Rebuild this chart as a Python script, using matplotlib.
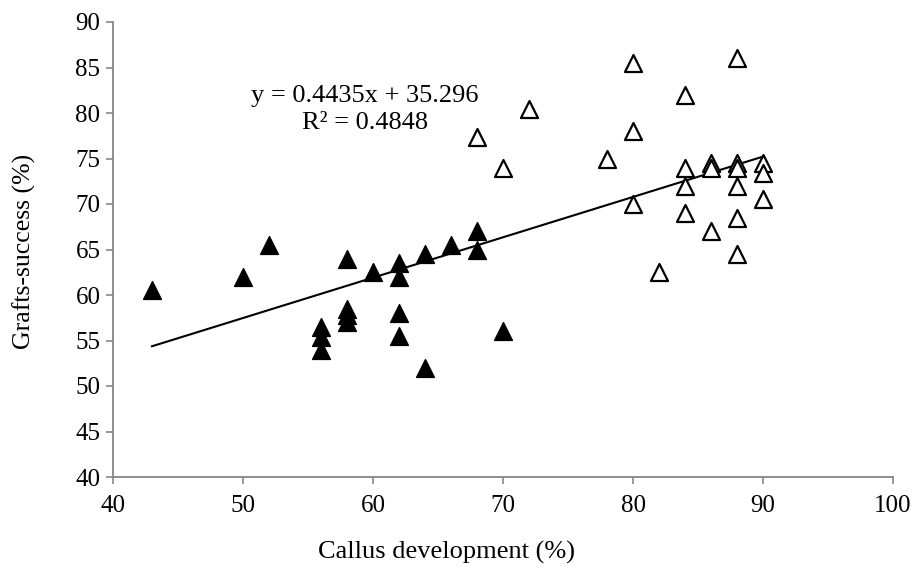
import matplotlib
matplotlib.use("Agg")
import matplotlib.pyplot as plt
import numpy as np

plt.rcParams['font.family'] = ['Liberation Serif', 'DejaVu Serif']

# Filled triangles (lower callus group)
filled_x = [43, 50, 52, 56, 56, 56, 58, 58, 58, 58, 60, 62, 62, 62, 62, 64, 64, 66, 68, 68, 70]
filled_y = [60.5, 62.0, 65.5, 56.5, 55.4, 54.0, 64.0, 58.5, 57.8, 57.0, 62.5, 63.5, 62.0, 58.0, 55.5, 64.5, 52.0, 65.5, 67.0, 65.0, 56.0]

# Open triangles (higher callus group)
open_x = [68, 70, 72, 78, 80, 80, 80, 82, 84, 84, 84, 84, 86, 86, 86, 88, 88, 88, 88, 88, 88, 90, 90, 90]
open_y = [77.4, 74.0, 80.4, 75.0, 85.5, 78.0, 70.0, 62.5, 82.0, 74.0, 72.0, 69.0, 74.5, 74.0, 67.0, 86.0, 74.5, 74.0, 72.0, 68.5, 64.5, 74.5, 73.4, 70.5]

# Linear trendline reported on the chart
slope = 0.4435
intercept = 35.296
r2 = 0.4848

x_ticks = [40, 50, 60, 70, 80, 90, 100]
y_ticks = [40, 45, 50, 55, 60, 65, 70, 75, 80, 85, 90]

W, H = 914, 568
fig = plt.figure(figsize=(W / 100, H / 100), dpi=100)
ax = fig.add_axes([113 / W, (H - 477) / H, 780 / W, 455 / H])

all_x = np.array(filled_x + open_x)
xl = np.array([all_x.min(), all_x.max()])
ax.plot(xl, slope * xl + intercept, color='black', lw=1.5, zorder=2)

ax.scatter(filled_x, filled_y, marker='^', s=165, c='black', edgecolors='black', linewidths=1.0, zorder=3)
ax.scatter(open_x, open_y, marker='^', s=150, facecolors='white', edgecolors='black', linewidths=1.6, zorder=3)

ax.set_xlim(40, 100)
ax.set_ylim(40, 90)
ax.set_xticks(x_ticks)
ax.set_yticks(y_ticks)
ax.tick_params(axis='both', labelsize=18, color='#868686', length=5, width=1.2, direction='out')
ax.tick_params(axis='x', pad=8)
ax.tick_params(axis='y', pad=4)

for s in ['top', 'right']:
    ax.spines[s].set_visible(False)
for s in ['left', 'bottom']:
    ax.spines[s].set_color('#868686')
    ax.spines[s].set_linewidth(1.3)

fig.text(447 / W, 1 - 552 / H, 'Callus development (%)', fontsize=19, ha='center', va='center')
fig.text(24 / W, 1 - 251 / H, 'Grafts-success (%)', fontsize=18.5, ha='center', va='center', rotation=90)

ax.text(59.4, 81.9, 'y = 0.4435x + 35.296', fontsize=19, ha='center', va='center')
ax.text(59.4, 78.9, 'R² = 0.4848', fontsize=19, ha='center', va='center')

fig.savefig('out.png', dpi=100)
